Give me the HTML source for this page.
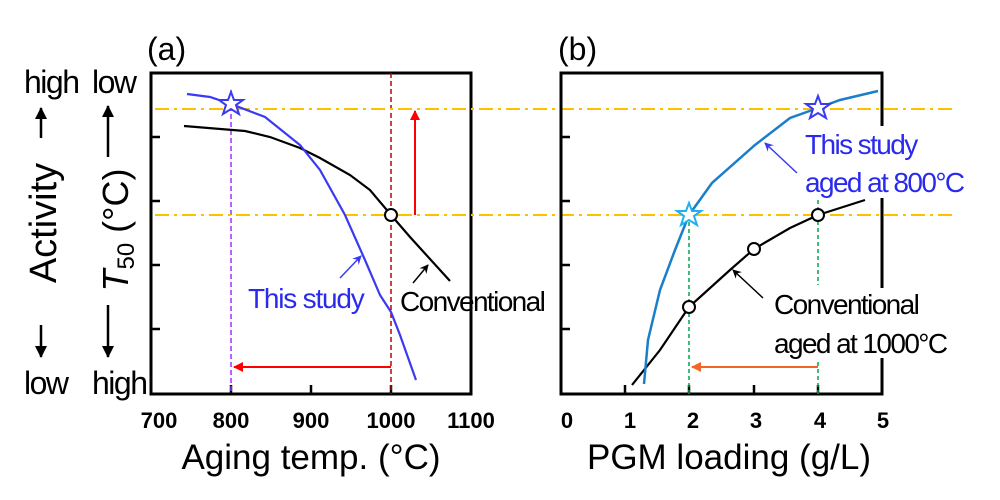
<!DOCTYPE html><html><head><style>body{margin:0;background:#fff}svg{display:block;font-family:"Liberation Sans",Arial,sans-serif}</style></head><body>
<svg width="1000" height="500" viewBox="0 0 1000 500">
<defs>
<marker id="ar" markerWidth="10" markerHeight="10" refX="9" refY="5" orient="auto" markerUnits="userSpaceOnUse"><path d="M0,0 L10,5 L0,10 z" fill="red"/></marker>
<marker id="ao" markerWidth="10" markerHeight="10" refX="9" refY="5" orient="auto" markerUnits="userSpaceOnUse"><path d="M0,0 L10,5 L0,10 z" fill="#f26522"/></marker>
<marker id="ab" markerWidth="9" markerHeight="9" refX="8" refY="4.5" orient="auto" markerUnits="userSpaceOnUse"><path d="M0,0 L9,4.5 L0,9 L3,4.5z" fill="#3a3af0"/></marker>
<marker id="ak" markerWidth="9" markerHeight="9" refX="8" refY="4.5" orient="auto" markerUnits="userSpaceOnUse"><path d="M0,0 L9,4.5 L0,9 L3,4.5z" fill="#000"/></marker>
<marker id="aK" markerWidth="12" markerHeight="12" refX="11" refY="6" orient="auto" markerUnits="userSpaceOnUse"><path d="M0,0 L12,6 L0,12 z" fill="#000"/></marker>
</defs>
<rect x="151" y="73" width="320" height="321" fill="none" stroke="#000" stroke-width="3"/>
<g stroke="#000" stroke-width="2.5"><path d="M151,137h9M151,201h9M151,265h9M151,329h9M231,394v-9M311,394v-9M391,394v-9"/></g>
<line x1="231" y1="90" x2="231" y2="394" stroke="#9b30ff" stroke-width="1.5" stroke-dasharray="5,3"/>
<line x1="391" y1="73" x2="391" y2="394" stroke="#c00000" stroke-width="1.5" stroke-dasharray="5,3"/>
<g stroke="#ffc000" stroke-width="2" stroke-dasharray="14,5,3,5"><line x1="155" y1="109" x2="952" y2="109"/><line x1="155" y1="215" x2="952" y2="215"/></g>
<path d="M184,126 L245,131 L270,137 L300,148 L320,158 L350,175 L370,190 L391,215 L410,237 L450,281" fill="none" stroke="#000" stroke-width="2.2"/>
<path d="M187,94 L210,97 L231,104 L265,117 L300,145 L320,170 L345,215 L365,260 L380,295 L391,312 L400,335 L416,380" fill="none" stroke="#3a3af0" stroke-width="2.2"/>
<circle cx="391" cy="215" r="6" fill="#fff" stroke="#000" stroke-width="2"/>
<polygon points="231,92 234,100 243,100 236,105 239,114 231,109 223,114 226,105 219,100 228,100" fill="#fff" stroke="#3a3af0" stroke-width="2"/>
<line x1="391" y1="367" x2="234" y2="367" stroke="red" stroke-width="2" marker-end="url(#ar)"/>
<line x1="415" y1="215" x2="415" y2="111" stroke="red" stroke-width="2" marker-end="url(#ar)"/>
<line x1="340" y1="278" x2="361" y2="256" stroke="#3a3af0" stroke-width="1.5" marker-end="url(#ab)"/>
<line x1="413" y1="283" x2="428" y2="265" stroke="#000" stroke-width="1.5" marker-end="url(#ak)"/>
<text x="248" y="308" font-size="28" fill="#2a2aee" letter-spacing="-1.2">This study</text>
<text x="400" y="311" font-size="28" letter-spacing="-1.6">Conventional</text>
<text x="147" y="60" font-size="32">(a)</text>
<g font-size="22" font-weight="bold" text-anchor="middle"><text x="159" y="428">700</text><text x="231" y="428">800</text><text x="311" y="428">900</text><text x="391" y="428">1000</text><text x="471" y="428">1100</text>
<text x="567" y="428">0</text><text x="630" y="428">1</text><text x="693" y="428">2</text><text x="756" y="428">3</text><text x="820" y="428">4</text><text x="883" y="428">5</text></g>
<text x="311" y="469" font-size="35" text-anchor="middle">Aging temp. (°C)</text>
<g font-size="32" letter-spacing="-1.5"><text x="24" y="93">high</text><text x="92" y="93">low</text><text x="24" y="394">low</text><text x="92" y="394">high</text></g>
<g stroke="#000" stroke-width="2.5"><line x1="41" y1="138" x2="41" y2="108" marker-end="url(#aK)"/><line x1="41" y1="325" x2="41" y2="357" marker-end="url(#aK)"/><line x1="108" y1="157" x2="108" y2="106" marker-end="url(#aK)"/><line x1="108" y1="305" x2="108" y2="357" marker-end="url(#aK)"/></g>
<text transform="translate(56,223) rotate(-90)" font-size="38" text-anchor="middle">Activity</text>
<text transform="translate(128,230) rotate(-90)" font-size="36" text-anchor="middle"><tspan font-style="italic">T</tspan><tspan font-size="24" dy="6">50</tspan><tspan dy="-6"> (°C)</tspan></text>
<rect x="561" y="73" width="321" height="321" fill="none" stroke="#000" stroke-width="3"/>
<g stroke="#000" stroke-width="2.5"><path d="M561,137h9M561,201h9M561,265h9M561,329h9M625,394v-9M689,394v-9M754,394v-9M818,394v-9"/></g>
<line x1="689" y1="215" x2="689" y2="394" stroke="#00a650" stroke-width="1.5" stroke-dasharray="4,3"/>
<line x1="818" y1="200" x2="818" y2="285" stroke="#00a650" stroke-width="1.5" stroke-dasharray="4,3"/>
<line x1="818" y1="362" x2="818" y2="394" stroke="#00a650" stroke-width="1.5" stroke-dasharray="4,3"/>
<path d="M632,385 L660,350 L689,307 L730,270 L754,249 L790,228 L818,215 L865,200" fill="none" stroke="#000" stroke-width="2.2"/>
<path d="M644,384 L648,340 L660,290 L675,250 L689,215 L712,183 L755,145 L790,118 L818,108 L840,100 L878,91" fill="none" stroke="#1a7fc8" stroke-width="2.5"/>
<g fill="#fff" stroke="#000" stroke-width="2"><circle cx="689" cy="307" r="6"/><circle cx="754" cy="249" r="6"/><circle cx="818" cy="215" r="6"/></g>
<polygon points="689,203 692,211 701,211 694,216 697,225 689,220 681,225 684,216 677,211 686,211" fill="#fff" stroke="#20b0f0" stroke-width="2"/>
<polygon points="818,96 821,104 830,104 823,109 826,118 818,113 810,118 813,109 806,104 815,104" fill="#fff" stroke="#3a3af0" stroke-width="2"/>
<line x1="818" y1="367" x2="692" y2="367" stroke="#f26522" stroke-width="2" marker-end="url(#ao)"/>
<line x1="797" y1="173" x2="765" y2="143" stroke="#3a3af0" stroke-width="1.5" marker-end="url(#ab)"/>
<line x1="763" y1="298" x2="733" y2="270" stroke="#000" stroke-width="1.5" marker-end="url(#ak)"/>
<rect x="800" y="126" width="170" height="72" fill="#fff"/>
<text x="805" y="154" font-size="28" fill="#2a2aee" letter-spacing="-1.6">This study</text>
<text x="805" y="192" font-size="28" fill="#2a2aee" letter-spacing="-1.6">aged at  800°C</text>
<rect x="770" y="288" width="195" height="70" fill="#fff"/>
<text x="774" y="314" font-size="28" letter-spacing="-1.6">Conventional</text>
<text x="774" y="353" font-size="28" letter-spacing="-1.6">aged at 1000°C</text>
<text x="558" y="60" font-size="32">(b)</text>
<text x="729" y="469" font-size="35" text-anchor="middle">PGM loading (g/L)</text>
</svg></body></html>
